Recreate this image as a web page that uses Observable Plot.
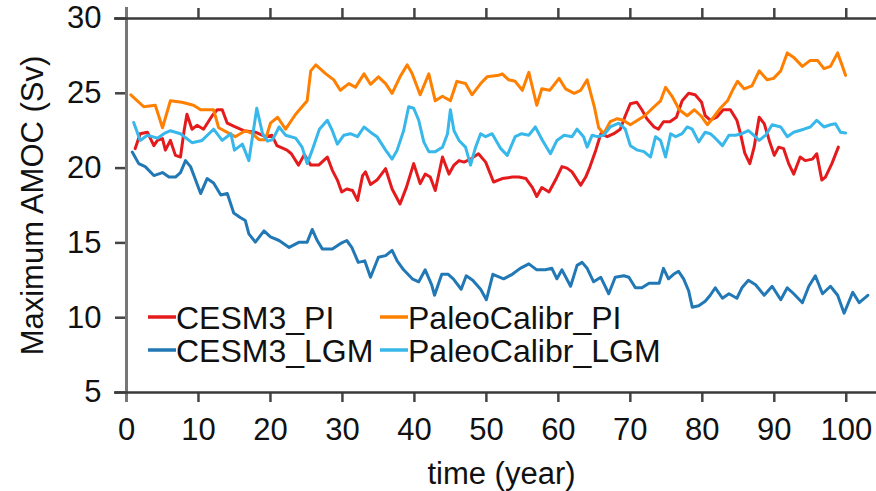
<!DOCTYPE html>
<html><head><meta charset="utf-8">
<script src="https://cdn.jsdelivr.net/npm/d3@7"></script>
<script src="https://cdn.jsdelivr.net/npm/@observablehq/plot@0.6"></script>
<style>
body{margin:0;background:#fff;}
#wrap{position:relative;width:876px;height:491px;overflow:hidden;}
#legend{position:absolute;left:0;top:0;}
</style></head><body><div id="wrap"></div>
<script>
const seriesNames = ["CESM3_PI", "PaleoCalibr_PI", "CESM3_LGM", "PaleoCalibr_LGM"];
const seriesColors = ["#e41a1c", "#ff7f00", "#2178b5", "#38b7ea"];
const xTicks = [0, 10, 20, 30, 40, 50, 60, 70, 80, 90, 100];
const yTicks = [5, 10, 15, 20, 25, 30];
const xLabel = "time (year)";
const yLabel = "Maximum AMOC (Sv)";

const cesm3PiYears = [1.2,1.9,2.9,3.8,4.3,5.0,5.4,6.1,6.8,7.5,8.0,8.4,9.1,9.8,10.7,11.9,12.6,13.3,14.0,15.1,16.3,17.9,19.3,20.2,20.9,22.3,22.9,23.9,24.7,25.6,26.7,27.9,28.6,29.3,29.9,30.6,31.4,32.1,32.8,33.2,33.9,34.8,36.0,36.9,38.0,38.9,39.9,40.8,41.5,42.2,42.9,43.9,44.8,45.5,46.2,46.9,47.8,48.9,49.9,51.0,52.2,53.6,54.5,55.5,56.4,57.0,57.7,58.7,59.6,60.5,61.2,61.9,63.1,63.8,64.4,65.2,65.9,66.8,67.7,68.6,69.3,70.0,70.9,71.6,72.3,73.3,73.9,74.6,75.5,76.4,77.2,78.1,79.0,79.9,80.4,81.1,82.0,82.9,83.9,84.8,85.3,85.9,86.6,87.2,87.9,88.6,89.3,90.0,90.6,91.3,92.0,92.7,93.6,94.3,95.3,95.9,96.6,97.1,98.0,98.9];
const cesm3PiValues = [21.3,22.3,22.4,21.5,21.85,21.97,21.2,21.85,20.85,20.74,22.5,23.6,22.6,22.86,22.6,23.5,23.9,23.9,23.0,22.75,22.5,22.4,22.1,22.2,21.5,21.2,20.96,20.2,20.9,20.2,20.2,20.74,19.85,19.2,18.4,18.6,18.5,17.84,19.5,19.75,18.9,19.2,19.96,18.6,17.6,18.73,20.3,18.96,19.6,19.4,18.5,20.74,19.6,20.2,20.5,20.4,20.6,20.96,20.4,19.07,19.3,19.4,19.4,19.3,18.7,18.1,18.7,18.4,19.2,20.1,20.0,19.75,18.85,19.4,20.1,21.2,22.3,22.1,22.3,22.6,23.5,24.3,24.4,23.9,23.3,22.75,22.6,23.1,23.1,23.4,24.5,25.0,24.9,24.4,23.5,23.2,23.4,23.9,23.9,23.2,22.3,21.0,20.3,21.4,23.4,22.97,21.85,20.85,21.4,21.3,20.3,19.6,20.74,20.5,20.6,20.96,19.2,19.4,20.3,21.4];

const paleoPiYears = [0.6,2.4,4.0,5.0,6.1,7.7,9.3,10.3,12.1,12.8,15.1,16.5,17.5,18.4,19.3,20.0,21.0,22.1,23.5,25.1,25.6,26.3,27.7,28.8,29.7,30.9,31.8,33.0,33.9,35.0,36.0,36.9,38.0,39.0,39.7,40.8,42.0,42.9,43.9,45.0,45.9,47.1,48.0,49.2,50.1,51.7,52.2,53.1,54.0,55.0,55.9,57.0,57.7,58.8,60.1,61.0,62.2,63.1,64.0,65.0,65.6,66.3,67.2,68.2,69.0,70.0,71.0,72.0,73.3,74.2,74.9,75.8,76.8,77.9,78.9,79.8,80.7,81.4,82.5,83.5,84.2,84.9,85.8,86.9,87.9,89.0,89.9,90.9,91.8,92.7,93.9,95.0,96.0,96.9,97.8,98.8,99.4,99.9];
const paleoPiValues = [24.9,24.1,24.2,22.7,24.5,24.4,24.2,23.9,23.9,22.7,22.1,22.5,22.3,21.9,21.9,23.0,23.4,22.6,23.6,24.5,26.5,26.9,26.3,25.9,25.2,25.65,25.4,26.3,25.6,26.1,25.65,25.0,26.1,26.9,26.3,24.9,26.3,24.5,24.8,24.5,25.8,25.65,24.9,25.65,26.1,26.2,26.3,25.9,25.8,25.2,26.4,24.2,25.3,25.2,26.0,25.3,25.0,25.2,25.9,24.1,22.7,22.3,23.1,23.3,23.2,22.9,23.2,23.5,24.1,24.5,25.4,24.8,23.9,23.5,23.9,23.5,22.9,23.3,24.0,24.5,25.2,25.8,25.3,25.5,26.5,25.9,26.0,26.5,27.7,27.4,26.8,27.2,27.2,26.65,26.8,27.7,26.9,26.2];

const cesm3LgmYears = [0.8,1.7,2.6,3.8,5.0,5.9,6.8,7.5,8.2,8.9,9.6,10.3,11.2,12.1,13.1,14.0,14.9,15.8,16.5,17.0,17.9,19.1,20.0,21.2,22.6,24.0,25.1,25.8,26.5,27.2,28.6,29.7,30.6,31.3,32.2,33.1,33.9,35.0,36.0,36.9,37.6,38.5,39.7,40.6,41.5,42.4,42.8,43.8,44.7,45.4,46.5,47.2,48.1,49.2,50.0,50.9,52.4,53.6,54.7,55.9,57.0,58.2,59.1,59.8,60.5,61.7,62.6,63.3,64.0,64.9,65.9,67.0,67.9,69.1,69.8,70.7,71.6,72.6,74.0,74.6,75.3,76.0,76.7,77.4,78.1,78.6,79.5,80.4,81.1,81.8,82.8,83.7,84.8,85.5,86.4,87.4,88.6,89.7,90.9,91.8,92.7,93.9,94.8,95.7,96.7,97.8,98.8,99.7,100.9,101.8,103.0];
const cesm3LgmValues = [21.07,20.3,20.1,19.5,19.7,19.4,19.4,19.7,20.5,20.1,19.2,18.3,19.3,19.0,18.2,18.3,17.0,16.7,16.5,15.6,15.05,15.8,15.4,15.16,14.7,15.05,15.05,15.9,15.16,14.6,14.6,14.95,15.16,14.7,13.7,13.8,12.7,14.04,14.15,14.5,13.8,13.2,12.6,12.4,13.2,12.2,11.5,12.9,12.9,12.6,11.9,12.8,12.5,11.9,11.2,12.9,12.6,12.9,13.3,13.6,13.2,13.2,13.3,12.6,13.2,12.1,13.5,13.7,13.3,12.4,12.7,11.6,12.7,12.8,12.7,12.0,12.0,12.3,12.3,13.3,12.6,12.9,13.1,12.6,11.8,10.7,10.8,11.1,11.5,12.0,11.3,11.6,11.3,12.0,12.5,12.2,11.5,12.1,11.2,12.0,11.6,11.0,12.1,12.8,11.6,12.1,11.5,10.3,11.7,11.0,11.5];

const paleoLgmYears = [1.0,1.9,2.9,4.3,5.2,6.1,7.5,9.1,10.5,12.1,13.3,14.5,15.0,16.1,17.0,18.1,18.9,19.6,20.3,21.2,22.1,23.5,24.4,25.1,25.8,26.8,27.9,28.6,29.3,30.2,31.1,32.1,33.0,33.9,34.8,36.0,36.9,37.6,38.5,39.2,39.9,40.6,41.3,42.0,42.9,43.9,44.6,45.0,45.5,46.2,47.1,47.8,48.5,49.2,49.9,50.8,52.0,52.9,54.0,54.9,55.9,56.8,57.8,58.9,59.8,60.8,61.9,62.6,63.5,64.0,64.7,65.4,66.3,67.2,68.4,69.3,70.0,71.0,71.9,72.8,73.5,74.2,74.9,75.6,76.3,77.2,77.9,78.6,79.5,80.4,81.1,81.8,82.8,83.7,84.6,85.5,86.4,86.9,87.9,88.8,89.7,90.9,91.8,92.7,94.1,95.0,95.9,96.9,97.8,98.5,99.2,99.9];
const paleoLgmValues = [23.05,21.85,22.2,22.0,22.3,22.5,22.3,21.7,21.85,22.6,21.85,22.3,21.2,21.6,20.5,24.0,22.3,21.8,21.9,22.75,22.2,22.0,21.4,20.3,21.2,22.6,23.2,22.5,21.6,22.2,22.3,22.1,22.75,22.4,22.1,21.2,20.6,21.2,22.5,24.1,24.0,23.2,21.75,21.1,21.1,21.4,22.3,23.9,22.5,21.85,21.4,20.2,21.4,22.3,22.1,22.3,21.3,20.85,22.1,22.3,22.2,22.75,21.85,20.96,21.85,22.2,22.1,22.6,22.1,21.4,22.2,22.1,22.2,22.75,23.0,22.6,21.5,21.2,21.1,20.74,22.1,21.85,20.74,22.3,22.1,22.3,22.75,22.6,21.75,22.4,22.3,22.0,21.5,22.2,22.2,22.3,22.5,22.3,21.85,22.2,22.9,22.75,22.1,22.4,22.6,22.75,23.2,22.75,22.9,22.97,22.4,22.35];

const seriesYears = [cesm3PiYears, paleoPiYears, cesm3LgmYears, paleoLgmYears];
const seriesValues = [cesm3PiValues, paleoPiValues, cesm3LgmValues, paleoLgmValues];
const drawOrder = [2, 0, 1, 3];

const rows = [];
for (const i of drawOrder) {
  seriesYears[i].forEach((yr, j) => rows.push({series: seriesNames[i], year: yr, value: seriesValues[i][j]}));
}

const FONT = "'Liberation Sans', Arial, Helvetica, sans-serif";
const chart = Plot.plot({
  width: 876, height: 491,
  marginLeft: 126, marginRight: 0, marginTop: 18, marginBottom: 99,
  x: {domain: [0, 104.2]},
  y: {domain: [5, 30]},
  color: {domain: seriesNames, range: seriesColors},
  style: {fontFamily: FONT, fontSize: "31px", color: "#111", background: "white", overflow: "visible"},
  marks: [
    Plot.axisY(yTicks, {anchor: "left", tickSize: 11, tickPadding: 14, stroke: "#444", strokeWidth: 2.5,
      label: yLabel, labelArrow: "none", labelAnchor: "center", labelOffset: 106, fontSize: 31}),
    Plot.axisX(xTicks, {anchor: "bottom", tickSize: 10, tickPadding: 15, stroke: "#444", strokeWidth: 2.5,
      label: xLabel, labelArrow: "none", labelAnchor: "center", labelOffset: 91, fontSize: 31}),
    Plot.axisX(xTicks.slice(1), {anchor: "top", tickSize: 11, stroke: "#444", strokeWidth: 2.5,
      tickFormat: () => "", label: null}),
    Plot.ruleX([xTicks[0]], {insetTop: -11, insetBottom: -10, stroke: "#777", strokeWidth: 3}),
    Plot.ruleY([yTicks[0], yTicks[yTicks.length - 1]], {insetLeft: -12, stroke: "#3a3a3a", strokeWidth: 2.5}),
    Plot.line(rows, {x: "year", y: "value", z: "series", stroke: "series", strokeWidth: 3, strokeLinejoin: "round"})
  ]
});

const wrap = document.getElementById("wrap");
wrap.appendChild(chart);

// legend overlay (inside plot area, two columns x two rows)
const legendLayout = [
  {col: 0, row: 0}, {col: 1, row: 0}, {col: 0, row: 1}, {col: 1, row: 1}
];
const colX = [148, 380];
const rowY = [317, 350];
const leg = d3.select(wrap).append("svg").attr("id", "legend")
  .attr("width", 876).attr("height", 491);
seriesNames.forEach((name, i) => {
  const p = legendLayout[i];
  const g = leg.append("g").attr("transform", `translate(${colX[p.col]},${rowY[p.row]})`);
  g.append("line").attr("x1", 0).attr("x2", 28).attr("y1", 0).attr("y2", 0)
    .attr("stroke", seriesColors[i]).attr("stroke-width", 3.5);
  g.append("text").attr("x", 28).attr("y", 11.5).text(name)
    .attr("font-family", FONT).attr("font-size", 32).attr("fill", "#111");
});
</script></body></html>
